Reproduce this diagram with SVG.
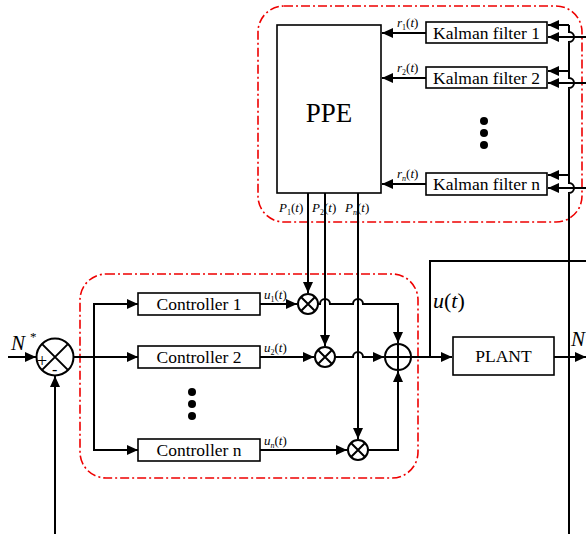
<svg xmlns="http://www.w3.org/2000/svg" width="586" height="534" viewBox="0 0 586 534" font-family="'Liberation Serif', serif">
<style>
text{font-family:"Liberation Serif",serif;fill:#000}
.ln{stroke:#000;stroke-width:2;fill:none}
.bx{fill:#fff;stroke:#000;stroke-width:1.6}
.cir{fill:#fff;stroke:#000;stroke-width:2}
.red{fill:none;stroke:#e00;stroke-width:1.6;stroke-dasharray:9 3 2 3}
.lb{font-size:17.5px;text-anchor:middle}
.sm{font-size:13px}
.it{font-style:italic}
</style>
<defs>
<marker id="ah" markerUnits="userSpaceOnUse" markerWidth="12" markerHeight="10" refX="11" refY="5" orient="auto">
<path d="M0,0 L11,5 L0,10 z" fill="#000"/>
</marker>
</defs>
<rect class="red" x="258" y="6" width="324" height="216" rx="26"/>
<rect class="red" x="80" y="274" width="338" height="204" rx="26"/>
<g id="connectors">
<line class="ln" x1="426" y1="33" x2="382" y2="33" marker-end="url(#ah)"/>
<line class="ln" x1="426" y1="78" x2="382" y2="78" marker-end="url(#ah)"/>
<line class="ln" x1="426" y1="184" x2="382" y2="184" marker-end="url(#ah)"/>
<path class="ln" d="M569,25 V32 A5,5 0 0 1 569,42 V78 A5,5 0 0 1 569,88 V183 A5,5 0 0 1 569,193 V534"/>
<line class="ln" x1="569" y1="25" x2="548" y2="25" marker-end="url(#ah)"/>
<line class="ln" x1="569" y1="71" x2="548" y2="71" marker-end="url(#ah)"/>
<line class="ln" x1="569" y1="175" x2="548" y2="175" marker-end="url(#ah)"/>
<line class="ln" x1="586" y1="37" x2="548" y2="37" marker-end="url(#ah)"/>
<line class="ln" x1="586" y1="83" x2="548" y2="83" marker-end="url(#ah)"/>
<line class="ln" x1="586" y1="188" x2="548" y2="188" marker-end="url(#ah)"/>
<line class="ln" x1="8" y1="357" x2="36" y2="357" marker-end="url(#ah)"/>
<line class="ln" x1="55" y1="534" x2="55" y2="376" marker-end="url(#ah)"/>
<line class="ln" x1="73" y1="357" x2="138" y2="357" marker-end="url(#ah)"/>
<path class="ln" d="M138,304 H94 V450 H138"/>
<line class="ln" x1="94" y1="304" x2="138" y2="304" marker-end="url(#ah)"/>
<line class="ln" x1="94" y1="450" x2="138" y2="450" marker-end="url(#ah)"/>
<line class="ln" x1="260" y1="304" x2="297" y2="304" marker-end="url(#ah)"/>
<line class="ln" x1="260" y1="357" x2="314" y2="357" marker-end="url(#ah)"/>
<line class="ln" x1="260" y1="450" x2="347" y2="450" marker-end="url(#ah)"/>
<line class="ln" x1="308" y1="193" x2="308" y2="293" marker-end="url(#ah)"/>
<line class="ln" x1="325" y1="193" x2="325" y2="346" marker-end="url(#ah)"/>
<line class="ln" x1="358" y1="193" x2="358" y2="439" marker-end="url(#ah)"/>
<path class="ln" d="M318,304 H320 A5,5 0 0 1 330,304 H353 A5,5 0 0 1 363,304 H398 V343" marker-end="url(#ah)"/>
<path class="ln" d="M335,357 H353 A5,5 0 0 1 363,357 H384" marker-end="url(#ah)"/>
<path class="ln" d="M368,450 H398 V371" marker-end="url(#ah)"/>
<line class="ln" x1="411" y1="357" x2="452" y2="357" marker-end="url(#ah)"/>
<path class="ln" d="M430,357 V261 H586"/>
<line class="ln" x1="554" y1="357" x2="586" y2="357" marker-end="url(#ah)"/>
</g>
<g id="ppe">
<rect class="bx" x="277" y="25" width="104" height="168"/>
<text x="329" y="122" font-size="27" text-anchor="middle">PPE</text>
</g>
<g id="kf1">
<rect class="bx" x="426" y="22" width="121" height="21"/>
<text class="lb" x="486.5" y="38.5">Kalman filter 1</text>
</g>
<g id="kf2">
<rect class="bx" x="426" y="67" width="121" height="21"/>
<text class="lb" x="486.5" y="83.5">Kalman filter 2</text>
</g>
<g id="kfn">
<rect class="bx" x="426" y="173" width="121" height="22"/>
<text class="lb" x="486.5" y="190">Kalman filter n</text>
</g>
<g id="kfdots">
<circle cx="484" cy="121" r="4"/>
<circle cx="484" cy="133" r="4"/>
<circle cx="484" cy="145" r="4"/>
</g>
<g id="labels-r" class="sm">
<text x="397" y="27"><tspan class="it">r</tspan><tspan font-size="8" dy="3">1</tspan><tspan dy="-3">(</tspan><tspan class="it">t</tspan>)</text>
<text x="397" y="72"><tspan class="it">r</tspan><tspan font-size="8" dy="3">2</tspan><tspan dy="-3">(</tspan><tspan class="it">t</tspan>)</text>
<text x="397" y="178"><tspan class="it">r</tspan><tspan font-size="8" dy="3"  class="it">n</tspan><tspan dy="-3">(</tspan><tspan class="it">t</tspan>)</text>
<text x="279" y="212"><tspan class="it">P</tspan><tspan font-size="8" dy="3">1</tspan><tspan dy="-3">(</tspan><tspan class="it">t</tspan>)</text>
<text x="312" y="212"><tspan class="it">P</tspan><tspan font-size="8" dy="3">2</tspan><tspan dy="-3">(</tspan><tspan class="it">t</tspan>)</text>
<text x="345" y="212"><tspan class="it">P</tspan><tspan font-size="8" dy="3" class="it">n</tspan><tspan dy="-3">(</tspan><tspan class="it">t</tspan>)</text>
<text x="264" y="299"><tspan class="it">u</tspan><tspan font-size="8" dy="3">1</tspan><tspan dy="-3">(</tspan><tspan class="it">t</tspan>)</text>
<text x="264" y="352"><tspan class="it">u</tspan><tspan font-size="8" dy="3">2</tspan><tspan dy="-3">(</tspan><tspan class="it">t</tspan>)</text>
<text x="264" y="445"><tspan class="it">u</tspan><tspan font-size="8" dy="3" class="it">n</tspan><tspan dy="-3">(</tspan><tspan class="it">t</tspan>)</text>
</g>
<g id="sum-in">
<circle class="cir" cx="55" cy="357" r="18.5"/>
<path class="ln" d="M41.9,343.9 L68.1,370.1 M68.1,343.9 L41.9,370.1" stroke-width="1.6"/>
<text x="37" y="367" font-size="18">+</text>
<text x="52" y="375" font-size="16">-</text>
</g>
<g id="nstar">
<text x="11" y="350" font-size="21" class="it">N</text>
<text x="30" y="341" font-size="13">*</text>
</g>
<g id="c1">
<rect class="bx" x="138" y="293" width="122" height="22"/>
<text class="lb" x="199" y="310">Controller 1</text>
</g>
<g id="c2">
<rect class="bx" x="138" y="346" width="122" height="22"/>
<text class="lb" x="199" y="363">Controller 2</text>
</g>
<g id="cn">
<rect class="bx" x="138" y="439" width="122" height="22"/>
<text class="lb" x="199" y="456">Controller n</text>
</g>
<g id="cdots">
<circle cx="192" cy="392" r="4"/>
<circle cx="192" cy="404" r="4"/>
<circle cx="192" cy="416" r="4"/>
</g>
<g id="m1">
<circle class="cir" cx="308" cy="304" r="10"/>
<path class="ln" d="M301,297 L315,311 M315,297 L301,311" stroke-width="1.6"/>
</g>
<g id="m2">
<circle class="cir" cx="325" cy="357" r="10"/>
<path class="ln" d="M318,350 L332,364 M332,350 L318,364" stroke-width="1.6"/>
</g>
<g id="mn">
<circle class="cir" cx="358" cy="450" r="10"/>
<path class="ln" d="M351,443 L365,457 M365,443 L351,457" stroke-width="1.6"/>
</g>
<g id="sum-out">
<circle class="cir" cx="398" cy="357" r="13"/>
<path class="ln" d="M385,357 H411 M398,344 V370" stroke-width="1.6"/>
</g>
<g id="plant">
<rect class="bx" x="453" y="337" width="101" height="38"/>
<text class="lb" x="503.5" y="362">PLANT</text>
</g>
<text x="433" y="308" font-size="22"><tspan class="it">u</tspan>(<tspan class="it">t</tspan>)</text>
<text x="571" y="346" font-size="21" class="it">N</text>
</svg>
